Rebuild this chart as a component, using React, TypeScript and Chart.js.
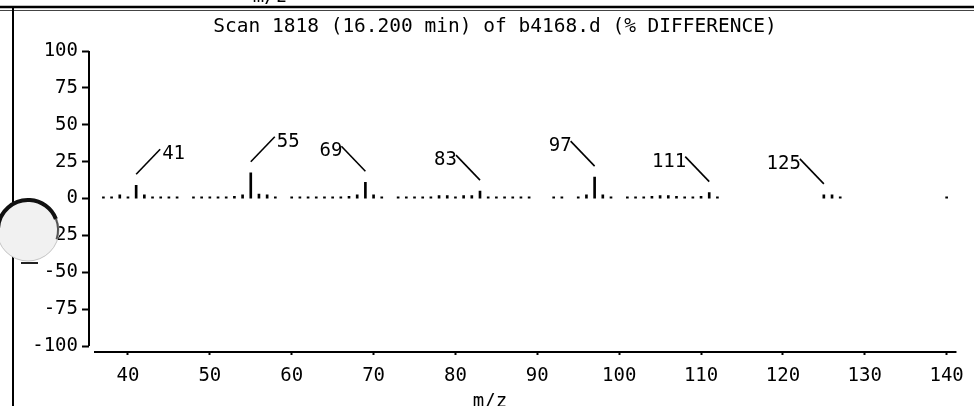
import React, { useEffect, useRef } from "react";
import { Chart, registerables } from "chart.js";

Chart.register(...registerables);

// ---------- data ----------
const TITLE = "Scan 1818 (16.200 min) of b4168.d (% DIFFERENCE)";
const X_TITLE = "m/z";

const MZ = [
  37, 38, 39, 40, 41, 42, 43, 44, 45, 46,
  48, 49, 50, 51, 52, 53, 54, 55, 56, 57, 58,
  60, 61, 62, 63, 64, 65, 66, 67, 68, 69, 70, 71,
  73, 74, 75, 76, 77, 78, 79, 80, 81, 82, 83, 84, 85, 86, 87, 88, 89,
  92, 93, 95, 96, 97, 98, 99,
  101, 102, 103, 104, 105, 106, 107, 108, 109, 110, 111, 112,
  125, 126, 127, 140,
];
const DIFF = [
  1.2, 1.2, 2.5, 1.2, 9, 2.5, 1.2, 1.2, 1.2, 1.2,
  1.2, 1.2, 1.2, 1.2, 1.2, 1.5, 2.5, 17.5, 3, 2.5, 1.2,
  1.2, 1.2, 1.2, 1.2, 1.2, 1.2, 1.2, 1.5, 2.5, 11, 2.5, 1.2,
  1.2, 1.2, 1.2, 1.2, 1.2, 2, 2, 1.2, 2, 2, 5, 1.2, 1.2, 1.2, 1.2, 1.2, 1.2,
  1.2, 1.2, 1.2, 2.5, 14.5, 2.5, 1.2,
  1.2, 1.2, 1.2, 1.5, 2, 2, 1.5, 1.2, 1.2, 1.5, 4, 1.2,
  2.5, 2.5, 1.2, 1.2,
];
const X_TICKS = [40, 50, 60, 70, 80, 90, 100, 110, 120, 130, 140];
const Y_TICKS = [-100, -75, -50, -25, 0, 25, 50, 75, 100];
const PEAK_LABELS = [41, 55, 69, 83, 97, 111, 125];

const X_MIN = 35.24;
const X_MAX = 141.2;
const Y_MIN = -104;
const Y_MAX = 100;

// ---------- styling ----------
const FONT_FAMILY = "'DejaVu Sans Mono', 'Liberation Mono', monospace";
const FONT_SIZE = 19;
const TITLE_SIZE = 19.5;
const INK = "#000";
const RIGHT_LEANING = new Set([41, 55]);

export default function App() {
  const canvasRef = useRef<HTMLCanvasElement | null>(null);

  useEffect(() => {
    document.body.style.margin = "0";
    const canvas = canvasRef.current;
    if (!canvas) return;

    const decor = {
      id: "decor",
      beforeDraw(chart: any) {
        const { ctx } = chart;
        ctx.save();
        ctx.fillStyle = "#fff";
        ctx.fillRect(0, 0, chart.width, chart.height);
        ctx.restore();
      },
      afterDraw(chart: any) {
        const { ctx, chartArea } = chart;
        const ys = chart.scales.y;
        ctx.save();
        ctx.strokeStyle = INK;
        ctx.fillStyle = INK;

        // title
        ctx.font = `${TITLE_SIZE}px ${FONT_FAMILY}`;
        ctx.textAlign = "center";
        ctx.textBaseline = "middle";
        ctx.fillText(TITLE, 495, 27);

        // y axis line (from +100 to -100)
        ctx.lineWidth = 2;
        ctx.beginPath();
        ctx.moveTo(chartArea.left, ys.getPixelForValue(Y_TICKS[Y_TICKS.length - 1]));
        ctx.lineTo(chartArea.left, ys.getPixelForValue(Y_TICKS[0]));
        ctx.stroke();

        // x axis line
        ctx.beginPath();
        ctx.moveTo(chartArea.left + 5, chartArea.bottom);
        ctx.lineTo(chartArea.right, chartArea.bottom);
        ctx.stroke();

        // peak labels with leader lines
        const meta = chart.getDatasetMeta(0);
        ctx.font = `${FONT_SIZE}px ${FONT_FAMILY}`;
        ctx.textBaseline = "middle";
        ctx.lineWidth = 1.6;
        PEAK_LABELS.forEach((m) => {
          const idx = MZ.indexOf(m);
          const el = meta.data[idx];
          if (!el) return;
          const dir = RIGHT_LEANING.has(m) ? 1 : -1;
          const x0 = el.x;
          const y0 = el.y - 11;
          const x1 = x0 + dir * 24;
          const y1 = y0 - 25;
          ctx.beginPath();
          ctx.moveTo(x0, y0);
          ctx.lineTo(x1, y1);
          ctx.stroke();
          ctx.textAlign = dir > 0 ? "left" : "right";
          ctx.fillText(String(m), dir > 0 ? x1 + 2 : x1 + 1, y1 + 5);
        });

        // bottom axis title (cut by page edge)
        ctx.textAlign = "center";
        ctx.textBaseline = "top";
        ctx.fillText(X_TITLE, chart.width / 2 + 3, 393);

        // page frame: top rules with a cut-off label, left rule
        ctx.textBaseline = "alphabetic";
        ctx.fillText(X_TITLE, 270, 2);
        ctx.lineWidth = 2.5;
        ctx.beginPath();
        ctx.moveTo(0, 7);
        ctx.lineTo(chart.width, 7);
        ctx.stroke();
        ctx.lineWidth = 1;
        ctx.strokeStyle = "#444";
        ctx.beginPath();
        ctx.moveTo(0, 10.5);
        ctx.lineTo(chart.width, 10.5);
        ctx.stroke();
        ctx.strokeStyle = INK;
        ctx.lineWidth = 2;
        ctx.beginPath();
        ctx.moveTo(13, 6);
        ctx.lineTo(13, chart.height);
        ctx.stroke();

        // punched hole
        const cx = 28, cy = 230, r = 31;
        ctx.beginPath();
        ctx.arc(cx, cy, r, 0, Math.PI * 2);
        ctx.fillStyle = "#f1f1f1";
        ctx.fill();
        ctx.strokeStyle = "#c4c4c4";
        ctx.lineWidth = 1;
        ctx.stroke();
        ctx.strokeStyle = "#111";
        ctx.lineWidth = 4;
        ctx.beginPath();
        ctx.arc(cx, cy, r - 1, Math.PI * 1.02, Math.PI * 1.88);
        ctx.stroke();
        ctx.strokeStyle = "#555";
        ctx.lineWidth = 2;
        ctx.beginPath();
        ctx.arc(cx, cy, r - 1, Math.PI * 1.88, Math.PI * 2.1);
        ctx.stroke();
        ctx.strokeStyle = "#222";
        ctx.lineWidth = 2;
        ctx.beginPath();
        ctx.moveTo(21, 263);
        ctx.lineTo(38, 263);
        ctx.stroke();

        ctx.restore();
      },
    };

    const chart = new Chart(canvas, {
      type: "bar",
      data: {
        datasets: [
          {
            data: MZ.map((m, i) => ({ x: m, y: DIFF[i] })),
            backgroundColor: INK,
            borderWidth: 0,
            barThickness: 2,
          },
        ],
      },
      options: {
        responsive: false,
        animation: false,
        events: [],
        layout: { padding: { left: 0, right: 17, top: 51, bottom: 0 } },
        plugins: {
          legend: { display: false },
          tooltip: { enabled: false },
          title: { display: false },
        },
        scales: {
          x: {
            type: "linear",
            min: X_MIN,
            max: X_MAX,
            offset: false,
            afterBuildTicks: (s: any) => {
              s.ticks = X_TICKS.map((v) => ({ value: v }));
            },
            afterFit: (s: any) => {
              s.height = 54;
            },
            border: { display: false },
            grid: {
              offset: false,
              drawOnChartArea: false,
              drawTicks: true,
              tickLength: 3,
              tickWidth: 2,
              tickColor: INK,
            },
            ticks: {
              color: INK,
              padding: 10,
              maxRotation: 0,
              autoSkip: false,
              font: { family: FONT_FAMILY, size: FONT_SIZE },
            },
          },
          y: {
            min: Y_MIN,
            max: Y_MAX,
            afterBuildTicks: (s: any) => {
              s.ticks = Y_TICKS.map((v) => ({ value: v }));
            },
            afterFit: (s: any) => {
              s.width = 89;
            },
            border: { display: false },
            grid: {
              drawOnChartArea: false,
              drawTicks: true,
              tickLength: 7,
              tickWidth: 2,
              tickColor: INK,
            },
            ticks: {
              color: INK,
              padding: 4,
              autoSkip: false,
              font: { family: FONT_FAMILY, size: FONT_SIZE },
            },
          },
        },
      },
      plugins: [decor],
    });

    return () => chart.destroy();
  }, []);

  return (
    <div style={{ width: 974, height: 406 }}>
      <canvas ref={canvasRef} width={974} height={406} style={{ display: "block" }} />
    </div>
  );
}
